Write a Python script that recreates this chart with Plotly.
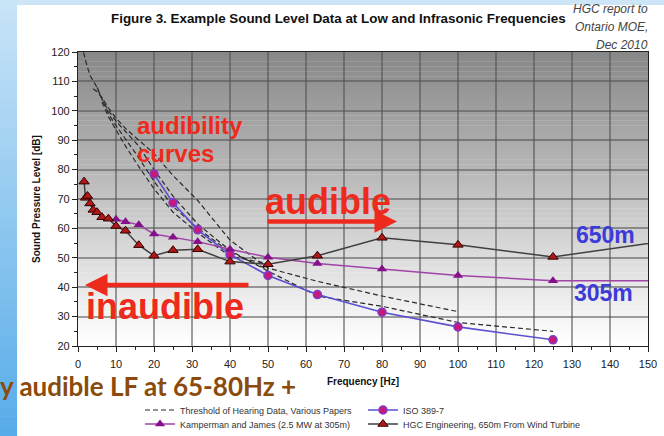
import plotly.graph_objects as go

# ---- data -------------------------------------------------------------
iso_f = [20, 25, 31.5, 40, 50, 63, 80, 100, 125]
iso_db = [78.5, 68.7, 59.5, 51.1, 44.0, 37.5, 31.5, 26.5, 22.1]

kj_f = [10, 12.5, 16, 20, 25, 31.5, 40, 50, 63, 80, 100, 125, 160]
kj_db = [63.1, 62.3, 61.2, 58.1, 57.0, 55.5, 52.9, 50.2, 48.1, 46.2, 44.0, 42.2, 42.2]

hgc_f = [1.6, 2, 2.5, 3.15, 4, 5, 6.3, 8, 10, 12.5, 16, 20, 25, 31.5, 40, 50,
         63, 80, 100, 125, 160]
hgc_db = [75.9, 70.4, 71.0, 68.5, 66.3, 65.5, 63.8, 63.3, 60.8, 59.2, 54.3, 50.7,
          52.6, 52.9, 48.7, 47.8, 50.7, 56.8, 54.4, 50.3, 56.7]

# threshold-of-hearing curves from several papers
thr1_f = [1, 2, 3.15, 5, 6.3, 8, 10, 12.5, 16, 20, 25, 31.5, 40, 50, 63, 80, 100, 125]
thr1_db = [122.5, 117, 112, 108, 104, 100, 96.5, 93, 88, 80, 71, 61.5, 52.5, 45.5,
           37, 33.5, 28, 25]
thr2_f = [4, 5, 6.3, 8, 10, 12.5, 16, 20, 25, 31.5, 40, 50, 63, 80, 100]
thr2_db = [107.5, 106.5, 104.5, 101, 97.5, 94, 90, 85.5, 78, 69.5, 56, 46.5, 42, 37, 31.7]
thr3_f = [5, 6.3, 8, 10, 12.5, 16, 20, 25, 31.5, 40, 50]
thr3_db = [108, 104, 99, 95, 90.5, 84, 76, 67.5, 60, 52, 46]
thr4_f = [6.3, 8, 10, 12.5, 16, 20, 25, 31.5, 40, 50]
thr4_db = [103, 98, 93.5, 88, 81, 73.5, 65.5, 58.5, 50.5, 48]

x_ticks = list(range(0, 151, 10))
y_ticks = list(range(20, 121, 10))

# ---- page geometry (pixels) ------------------------------------------
W, H = 664, 436
L, R, T, B = 78, 16, 52, 90
PW, PH = W - L - R, H - T - B


def px(x):
    return (x - L) / PW


def py(y):
    return (H - B - y) / PH


FONT = "Liberation Sans, Arial, sans-serif"
RED = "#ee2a1c"
BLUE = "#3b3bd9"

fig = go.Figure()

thr_sets = [(thr1_f, thr1_db), (thr2_f, thr2_db), (thr3_f, thr3_db), (thr4_f, thr4_db)]
for i, (f, db) in enumerate(thr_sets):
    fig.add_trace(go.Scatter(
        x=f, y=db, mode="lines",
        line=dict(color="#2a2a2a", width=1.2, dash="5px,3px"),
        name="Threshold of Hearing Data, Various Papers",
        showlegend=(i == 0), legend="legend",
    ))

fig.add_trace(go.Scatter(
    x=iso_f, y=iso_db, mode="lines+markers", name="ISO 389-7",
    line=dict(color="#5a50d0", width=1.6),
    marker=dict(symbol="circle", size=8, color="#c8187a",
                line=dict(color="#7a3cc8", width=1.5)),
    legend="legend",
))
fig.add_trace(go.Scatter(
    x=kj_f, y=kj_db, mode="lines+markers", name="Kamperman and James (2.5 MW at 305m)",
    line=dict(color="#a044a8", width=1.5),
    marker=dict(symbol="triangle-up", size=9, color="#84108a"),
    legend="legend2",
))
fig.add_trace(go.Scatter(
    x=hgc_f, y=hgc_db, mode="lines+markers",
    name="HGC Engineering, 650m From Wind Turbine",
    line=dict(color="#404040", width=1.5),
    marker=dict(symbol="triangle-up", size=9, color="#b01818",
                line=dict(color="#300000", width=1)),
    legend="legend2",
))

shapes = []
# grey-to-white gradient behind the plotting area
n = 60
for i in range(n):
    t = i / (n - 1)
    g = int(round(136 + (255 - 136) * t))
    shapes.append(dict(type="rect", xref="x domain", yref="y domain",
                       x0=0, x1=1, y0=1 - (i + 1) / n, y1=1 - i / n + 0.001,
                       fillcolor=f"rgb({g},{g},{g})", line_width=0, layer="below"))
# blue slide border: left strip and thin top strip
m = 44
for i in range(m):
    t = i / (m - 1)
    r = int(round(200 + (88 - 200) * t))
    gg = int(round(228 + (172 - 228) * t))
    b = int(round(247 + (233 - 247) * t))
    y0 = i * H / m
    y1 = (i + 1) * H / m + 0.6
    shapes.append(dict(type="rect", xref="paper", yref="paper",
                       x0=px(0), x1=px(17), y0=py(y1), y1=py(y0),
                       fillcolor=f"rgb({r},{gg},{b})", line_width=0, layer="below"))
shapes.append(dict(type="rect", xref="paper", yref="paper",
                   x0=px(17), x1=px(W), y0=py(5), y1=py(0),
                   fillcolor="rgb(205,230,247)", line_width=0, layer="below"))


def label(text, x, y, size, color, family=FONT, xanchor="left"):
    return dict(text=text, x=px(x), y=py(y), xref="paper", yref="paper",
                xanchor=xanchor, yanchor="middle", showarrow=False,
                font=dict(family=family, size=size, color=color))


annotations = [
    label("<b>Figure 3. Example Sound Level Data at Low and Infrasonic Frequencies</b>",
          338, 19, 13.4, "#111", xanchor="center"),
    label("<i>HGC report to</i>", 650, 9, 12, "#444", xanchor="right"),
    label("<i>Ontario MOE,</i>", 650, 27, 12, "#444", xanchor="right"),
    label("<i>Dec 2010</i>", 650, 45, 12, "#444", xanchor="right"),
    label("<b>audibility</b>", 135, 126, 24, RED),
    label("<b>curves</b>", 135, 153, 24, RED),
    label("<b>audible</b>", 263, 201, 36, RED),
    label("<b>inaudible</b>", 84, 306, 36, RED),
    label("<b>650m</b>", 605, 235, 23, BLUE, xanchor="center"),
    label("<b>305m</b>", 603, 293, 23, BLUE, xanchor="center"),
    label("<b>y audible LF at 65-80Hz +</b>", 298, 386, 26, "#8a4b0c",
          family="Lato, Open Sans, sans-serif", xanchor="right"),
    dict(text="", x=px(397), y=py(221.5), xref="paper", yref="paper",
         ax=-131, ay=0, showarrow=True, arrowhead=2, arrowsize=1,
         arrowwidth=4.5, arrowcolor=RED),
    dict(text="", x=px(85), y=py(285), xref="paper", yref="paper",
         ax=165, ay=0, showarrow=True, arrowhead=2, arrowsize=1,
         arrowwidth=4.5, arrowcolor=RED),
]

axis_common = dict(
    showline=True, linecolor="#222", linewidth=1.2, mirror=True,
    ticks="outside", ticklen=5, tickcolor="#222", tickwidth=1.2,
    showgrid=True, gridcolor="rgba(80,80,80,0.55)", gridwidth=1.5,
    zeroline=False, automargin=False,
    tickfont=dict(family=FONT, size=11, color="#222"),
    minor=dict(ticks="outside", ticklen=3, tickcolor="#222", dtick=5, showgrid=False),
)

legend_common = dict(
    orientation="h", xanchor="left", yanchor="middle",
    entrywidth=178, entrywidthmode="pixels", bgcolor="rgba(0,0,0,0)",
    font=dict(family=FONT, size=9, color="#333"), tracegroupgap=0,
)

fig.update_layout(
    width=W, height=H,
    margin=dict(l=L, r=R, t=T, b=B, pad=0, autoexpand=False),
    paper_bgcolor="white", plot_bgcolor="white",
    shapes=shapes, annotations=annotations,
    xaxis=dict(range=[0, 150], tickvals=x_ticks, ticklabelstandoff=3,
               title=dict(text="<b>Frequency [Hz]</b>", standoff=8,
                          font=dict(family=FONT, size=10, color="#111")),
               **axis_common),
    yaxis=dict(range=[20, 120], tickvals=y_ticks,
               title=dict(text="<b>Sound Pressure Level [dB]</b>", standoff=8,
                          font=dict(family=FONT, size=10, color="#111")),
               **axis_common),
    legend=dict(x=px(140), y=py(410), **legend_common),
    legend2=dict(x=px(140), y=py(424), **legend_common),
)

fig.write_html("out.html")
